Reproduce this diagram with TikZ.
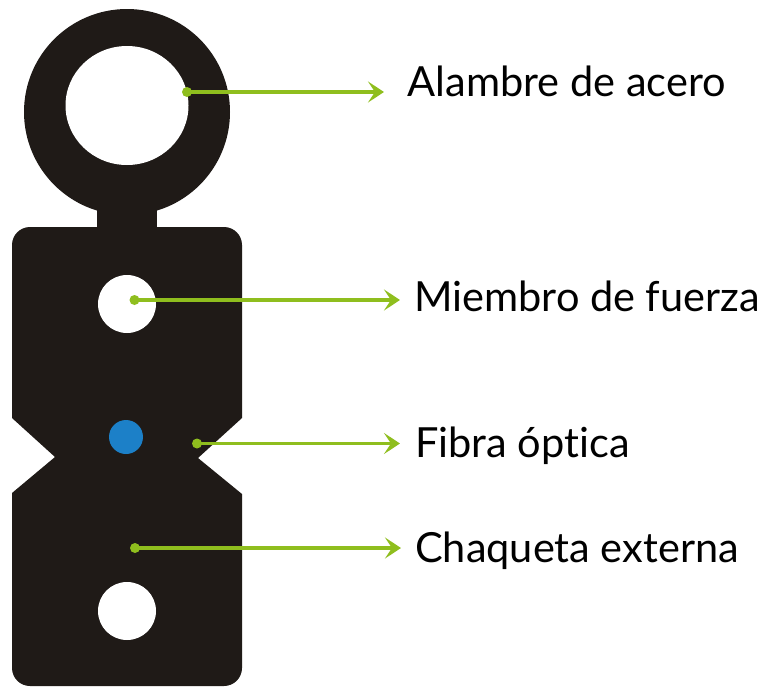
\documentclass[tikz,border=0pt]{standalone}
\usepackage{fontspec}
\setmainfont[Ligatures={NoCommon}]{Lato}
\usetikzlibrary{arrows.meta}
\tikzset{
  px/.style={x=1pt,y=-1pt},
  body/.style={fill=cablek,draw=none},
  hole/.style={fill=white,draw=none},
  dotnode/.style={fill=leaf,draw=none,circle,minimum size=10pt,inner sep=0pt},
  lead/.style={draw=leaf,line width=3.2pt,-{Stealth[length=16pt,width=21pt,inset=7pt]}},
  lab/.style={anchor=base west,inner sep=0pt,font=\fontsize{41.5}{48}\selectfont,text=black},
}
\definecolor{cablek}{HTML}{1F1A17}
\definecolor{leaf}{HTML}{8FBE1E}
\definecolor{fibre}{HTML}{1C80C8}
\begin{document}
\begin{tikzpicture}[px]
\useasboundingbox (0,0) rectangle (769,686);
\fill[white] (0,0) rectangle (769,686);
\fill[body] (127,112) circle (103);
\fill[body] (97,190) rectangle (157,240);
\fill[body] [rounded corners=18pt] (12,300) -- (12,227) -- (242,227) -- (242,300) [sharp corners] -- (242,418) -- (198,458) -- (242,494) -- (242,600) [rounded corners=18pt] -- (242,686) -- (12,686) -- (12,600) [sharp corners] -- (12,493) -- (55,457) -- (12,418) -- cycle;
\fill[hole] (127,105.5) ellipse (61.5 and 59.5);
\node[hole,circle,inner sep=0pt,minimum size=58pt] (h1) at (127,304) {};
\node[hole,circle,inner sep=0pt,minimum size=58pt] (h2) at (127,611) {};
\node[circle,fill=fibre,inner sep=0pt,minimum size=34pt] (fib) at (126,437) {};
\node[dotnode] (d1) at (187,92) {};
\node[dotnode] (d2) at (134.5,300) {};
\node[dotnode] (d3) at (197,443.5) {};
\node[dotnode] (d4) at (135,548) {};
\node[lab] (l1) at (407.5,96) {Alambre de acero};
\node[lab] (l2) at (414,311) {Miembro de fuerza};
\node[lab] (l3) at (415,457) {Fibra óptica};
\node[lab] (l4) at (415,562) {Chaqueta externa};
\coordinate (e1) at (384,92);
\coordinate (e2) at (400,300);
\coordinate (e3) at (400,443.5);
\coordinate (e4) at (401,548);
\draw[lead] (d1.center) -- (e1 |- d1.center);
\draw[lead] (d2.center) -- (e2 |- d2.center);
\draw[lead] (d3.center) -- (e3 |- d3.center);
\draw[lead] (d4.center) -- (e4 |- d4.center);
\end{tikzpicture}
\end{document}
